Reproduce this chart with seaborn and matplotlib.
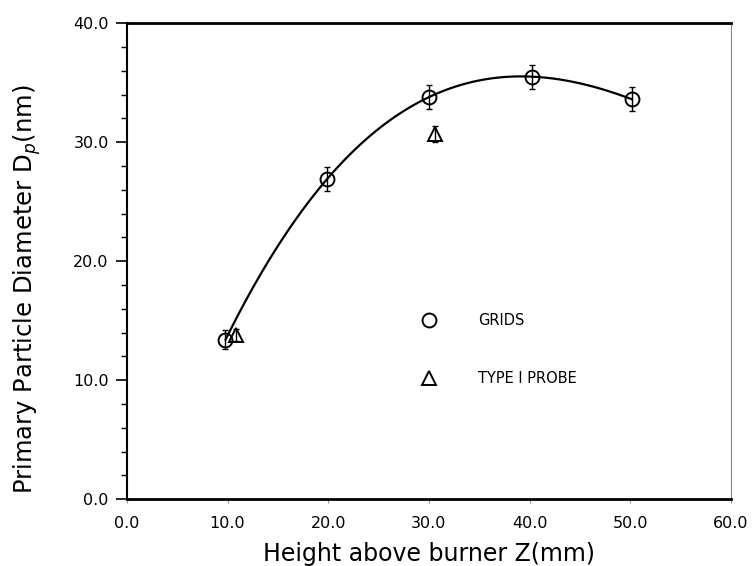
import numpy as np
import pandas as pd
import seaborn as sns
import matplotlib
matplotlib.use("Agg")
import matplotlib.pyplot as plt
from matplotlib.ticker import MultipleLocator, FormatStrFormatter

# --- data ---
grid_x = [9.8, 19.9, 30.0, 40.2, 50.2]
grid_y = [13.4, 26.9, 33.8, 35.5, 33.6]
grid_err = [0.8, 1.0, 1.0, 1.0, 1.0]

probe_x = [10.8, 30.6]
probe_y = [13.8, 30.7]
probe_err = [0.5, 0.7]

x_ticks = [0, 10, 20, 30, 40, 50, 60]
y_ticks = [0, 10, 20, 30, 40]

sns.set_style("ticks")
plt.rcParams["font.family"] = ["DejaVu Sans"]
plt.rcParams["text.color"] = "black"
plt.rcParams["axes.labelcolor"] = "black"
plt.rcParams["xtick.labelcolor"] = "black"
plt.rcParams["ytick.labelcolor"] = "black"

fig = plt.figure(figsize=(7.55, 5.66), dpi=100)
ax = fig.add_axes([0.168, 0.118, 0.800, 0.841])

grids = pd.DataFrame({"z": grid_x, "d": grid_y})

# smooth fitted curve through the grid data
sns.regplot(data=grids, x="z", y="d", order=3, ci=None, scatter=False,
            truncate=True, ax=ax, line_kws=dict(color="black", lw=1.6))

# error bars
ax.errorbar(grid_x, grid_y, yerr=grid_err, fmt="none", ecolor="black",
            elinewidth=1.0, capsize=2, capthick=1.0)
ax.errorbar(probe_x, probe_y, yerr=probe_err, fmt="none", ecolor="black",
            elinewidth=1.0, capsize=2, capthick=1.0)

# markers
ax.plot(grid_x, grid_y, linestyle="none", marker="o", ms=10,
        mfc="none", mec="black", mew=1.4, label="GRIDS")
ax.plot(probe_x, probe_y, linestyle="none", marker="^", ms=10.5,
        mfc="none", mec="black", mew=1.4, label="TYPE I PROBE")

ax.set_xlim(0, 60)
ax.set_ylim(0, 40)
ax.set_xticks(x_ticks)
ax.set_yticks(y_ticks)
ax.xaxis.set_major_formatter(FormatStrFormatter("%.1f"))
ax.yaxis.set_major_formatter(FormatStrFormatter("%.1f"))
ax.yaxis.set_minor_locator(MultipleLocator(2))

ax.tick_params(axis="y", which="major", direction="out", length=8, width=1.2,
               pad=5, labelsize=11.5, color="black")
ax.tick_params(axis="y", which="minor", direction="out", length=4, width=1.0,
               color="black")
ax.tick_params(axis="x", which="major", direction="out", length=3, width=0.8,
               color="#999999", pad=9, labelsize=11.5)

for side in ["top", "bottom"]:
    ax.spines[side].set_linewidth(2.0)
    ax.spines[side].set_color("black")
ax.spines["left"].set_linewidth(1.5)
ax.spines["left"].set_color("black")
ax.spines["right"].set_linewidth(0.8)
ax.spines["right"].set_color("#888888")
ax.spines["right"].set_visible(True)
ax.spines["top"].set_visible(True)

ax.set_xlabel("Height above burner Z(mm)", fontsize=17, labelpad=8)
ax.set_ylabel(r"Primary Particle Diameter D$_p$(nm)", fontsize=17.5,
              labelpad=22, y=0.44)

leg = ax.legend(loc="upper left", bbox_to_anchor=(0.4876, 0.392), frameon=False,
                fontsize=10.5, numpoints=1, handlelength=1.0, handletextpad=2.9,
                labelspacing=3.0, borderpad=0, borderaxespad=0)

fig.savefig("out.png", dpi=100, facecolor="white")
